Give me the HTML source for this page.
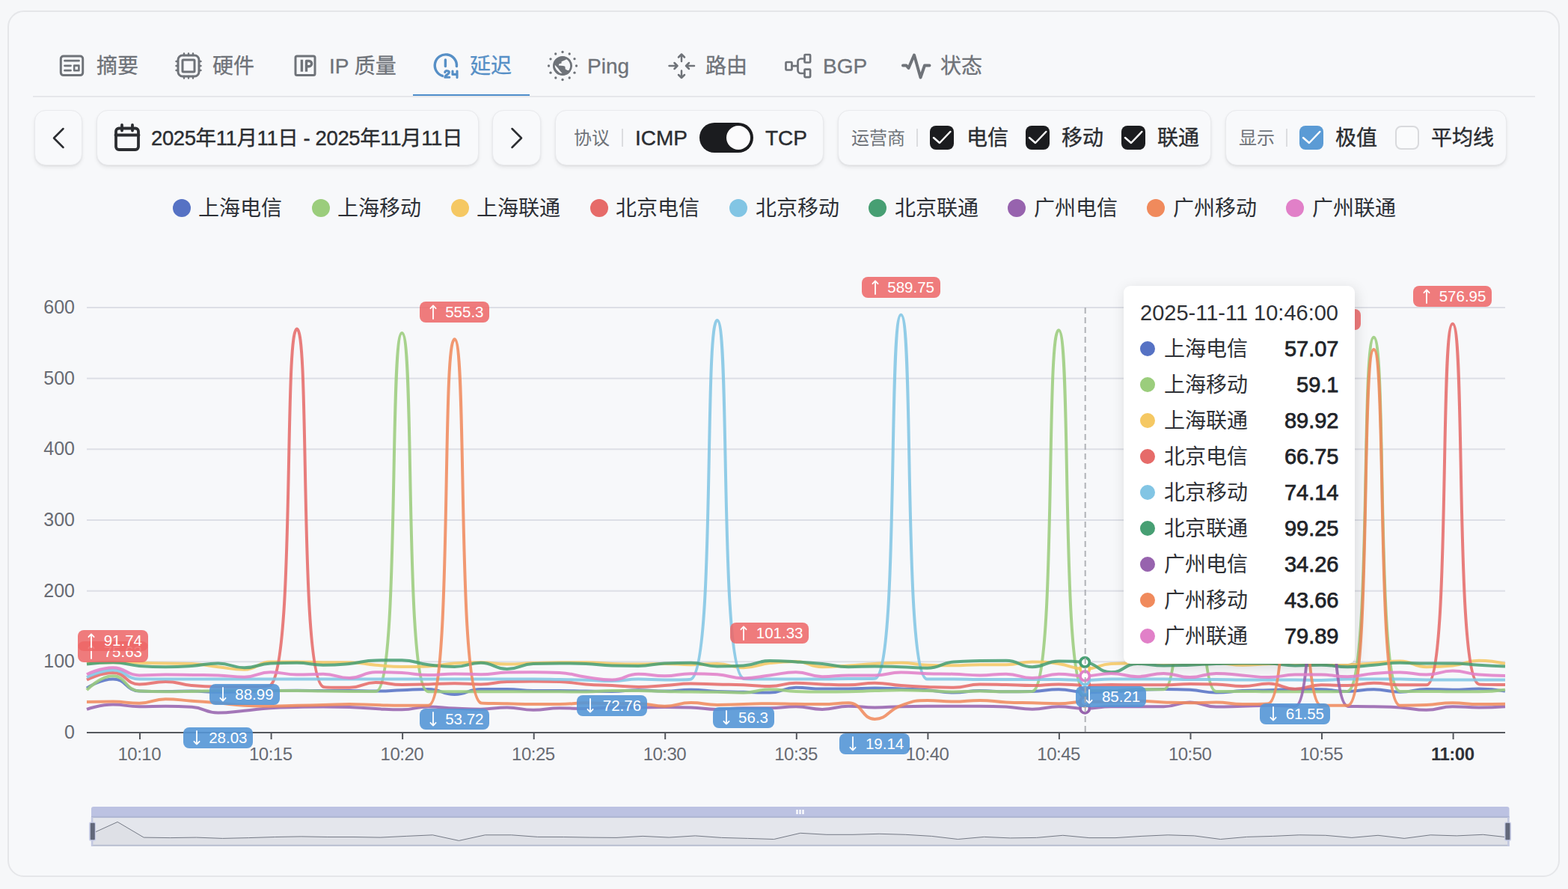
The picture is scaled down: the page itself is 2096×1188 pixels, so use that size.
<!DOCTYPE html>
<html lang="zh-CN"><head><meta charset="utf-8"><title>延迟</title>
<style>
*{box-sizing:border-box;margin:0;padding:0}
html,body{width:2096px;height:1188px;overflow:hidden;background:#f6f7f9;font-family:"Liberation Sans", "Noto Sans CJK SC", sans-serif;}
#page{position:relative;width:2096px;height:1188px;overflow:hidden}
.card{position:absolute;left:10px;top:14px;width:2075px;height:1158px;border:2px solid #e5e6e9;border-radius:22px;background:#f7f8fa}
.t{position:absolute;white-space:nowrap;font-family:"Liberation Sans", "Noto Sans CJK SC", sans-serif;letter-spacing:0}
.ic{position:absolute;overflow:visible}
.tf{display:flex;align-items:center;white-space:pre}
.btn{position:absolute;top:147px;height:74px;border-radius:15px;background:#f8f9fb;border:1.5px solid #e9eaed;box-shadow:0 3px 5px rgba(0,0,0,.07),0 1px 2px rgba(0,0,0,.05)}
.sep{position:absolute;top:172px;width:2px;height:24px;background:#dcdde0}
.cb{position:absolute;top:168px;width:32px;height:32px;border-radius:8px}
.abs{position:absolute}
</style></head><body><div id="page">
<div class="card"></div>
<div class="abs" style="left:44px;top:128px;width:2008px;height:2px;background:#e6e7ea"></div>
<div class="abs" style="left:552px;top:126px;width:156px;height:2.2px;background:#4f8ecb"></div>

<svg class="ic" style="left:76px;top:68px" width="40" height="40" viewBox="0 0 40 40" fill="none" stroke="#6f7379" stroke-width="3" stroke-linecap="round" stroke-linejoin="round"><rect x="5.3" y="7" width="29.4" height="25.6" rx="3.5"/><path d="M10.5 13.2H29.5M10.5 19.8H18.5M10.5 26.2H18.5" stroke-width="2.8"/><rect x="23.2" y="19.6" width="6.2" height="6.6" stroke-width="2.6"/></svg>
<div class="t tf" style="left:129px;top:68.5px;height:39px;line-height:39px;font-size:28px;color:#6f7379;font-weight:400;-webkit-text-stroke:0.3px #6f7379;"><span>摘要</span></div>
<svg class="ic" style="left:232px;top:68px" width="40" height="40" viewBox="0 0 40 40" fill="none" stroke="#6f7379" stroke-width="3" stroke-linecap="round" stroke-linejoin="round"><rect x="6" y="6" width="28" height="28" rx="6"/><rect x="12" y="12" width="16" height="16" rx="1"/><path d="M14 3.5V6M20 3.5V6M26 3.5V6M14 34V36.5M20 34V36.5M26 34V36.5M3.5 14H6M3.5 20H6M3.5 26H6M34 14H36.5M34 20H36.5M34 26H36.5" stroke-width="2.4"/></svg>
<div class="t tf" style="left:284px;top:68.5px;height:39px;line-height:39px;font-size:28px;color:#6f7379;font-weight:400;-webkit-text-stroke:0.3px #6f7379;"><span>硬件</span></div>
<svg class="ic" style="left:388px;top:68px" width="40" height="40" viewBox="0 0 40 40" fill="none" stroke="#6f7379" stroke-width="3" stroke-linecap="round" stroke-linejoin="round"><rect x="7" y="7" width="26" height="25.6" rx="2"/><path d="M15.4 11.8V27.8M21.5 27.8V13.5H25A3.6 3.6 0 0 1 25 20.7H21.5" stroke-width="3.4" stroke-linecap="butt"/></svg>
<div class="t tf" style="left:440px;top:68.5px;height:39px;line-height:39px;font-size:28px;color:#6f7379;font-weight:400;-webkit-text-stroke:0.3px #6f7379;"><span>IP </span><span>质量</span></div>
<svg class="ic" style="left:576px;top:68px" width="40" height="40" viewBox="0 0 40 40" fill="none" stroke="#568fc6" stroke-width="3" stroke-linecap="round" stroke-linejoin="round"><path d="M15.5 33.4A14.6 14.6 0 1 1 34.4 20.6" stroke-width="3.4"/><path d="M19.4 12V20.6" stroke-width="3.4"/><path d="M18.8 28.6C18.8 26 24.4 26 24.4 28.8C24.4 31.2 18.8 32.2 18.8 35.2H24.8M29 27V31.4H35M35 27V35.6" stroke-width="3.1"/></svg>
<div class="t tf" style="left:628px;top:68.5px;height:39px;line-height:39px;font-size:28px;color:#568fc6;font-weight:400;-webkit-text-stroke:0.3px #568fc6;"><span>延迟</span></div>
<svg class="ic" style="left:732px;top:68px" width="40" height="40" viewBox="0 0 40 40" fill="none" stroke="#6f7379" stroke-width="3" stroke-linecap="round" stroke-linejoin="round"><circle cx="38.5" cy="20.0" r="1.65" fill="#6f7379" stroke="none"/><circle cx="36.0" cy="29.2" r="1.65" fill="#6f7379" stroke="none"/><circle cx="29.2" cy="36.0" r="1.65" fill="#6f7379" stroke="none"/><circle cx="20.0" cy="38.5" r="1.65" fill="#6f7379" stroke="none"/><circle cx="10.8" cy="36.0" r="1.65" fill="#6f7379" stroke="none"/><circle cx="4.0" cy="29.2" r="1.65" fill="#6f7379" stroke="none"/><circle cx="1.5" cy="20.0" r="1.65" fill="#6f7379" stroke="none"/><circle cx="4.0" cy="10.8" r="1.65" fill="#6f7379" stroke="none"/><circle cx="10.7" cy="4.0" r="1.65" fill="#6f7379" stroke="none"/><circle cx="20.0" cy="1.5" r="1.65" fill="#6f7379" stroke="none"/><circle cx="29.2" cy="4.0" r="1.65" fill="#6f7379" stroke="none"/><circle cx="36.0" cy="10.7" r="1.65" fill="#6f7379" stroke="none"/><circle cx="20" cy="20" r="12.4" fill="#6f7379" stroke="none"/><path d="M22.8 12.4L25.7 10.9L29.4 14.7L30.6 20.4L29 26L26.6 26L23.8 24.6L23.3 20.8L20.9 19.9L14.8 19.4L15.3 17.5L18.6 16.6L18.6 14.2Z" fill="#f7f8fa" stroke="none"/><path d="M9.6 18.6L13.8 23L16.6 26.8L19.6 30L16 29.6L12 25.4L9.4 21Z" fill="#f7f8fa" stroke="none"/><circle cx="20" cy="20" r="11.7" fill="none" stroke="#6f7379" stroke-width="2.6"/></svg>
<div class="t" style="left:785px;top:68.5px;height:39px;line-height:39px;font-size:28px;color:#6f7379;font-weight:400;-webkit-text-stroke:0.3px #6f7379;">Ping</div>
<svg class="ic" style="left:891px;top:68px" width="40" height="40" viewBox="0 0 40 40" fill="none" stroke="#6f7379" stroke-width="3" stroke-linecap="round" stroke-linejoin="round"><path d="M20 4.5V14M16 8.5L20 4.5L24 8.5M20 36V26.5M16 32L20 36L24 32M3.5 20H14.5M10.5 16L14.5 20L10.5 24M37 20H26M30 16L26 20L30 24" stroke-width="2.5"/></svg>
<div class="t tf" style="left:943px;top:68.5px;height:39px;line-height:39px;font-size:28px;color:#6f7379;font-weight:400;-webkit-text-stroke:0.3px #6f7379;"><span>路由</span></div>
<svg class="ic" style="left:1047px;top:68px" width="40" height="40" viewBox="0 0 40 40" fill="none" stroke="#6f7379" stroke-width="3" stroke-linecap="round" stroke-linejoin="round"><g stroke-width="2.7"><rect x="3.5" y="15" width="8" height="10.5" rx="1"/><rect x="28.5" y="5" width="7.6" height="10.5" rx="1"/><rect x="28.5" y="24.6" width="7.6" height="10.5" rx="1"/><path d="M11.5 20.2H19.5M28.5 10.5H23.5A4 4 0 0 0 19.5 14.5V26A4 4 0 0 0 23.5 30H28.5"/></g></svg>
<div class="t" style="left:1100px;top:68.5px;height:39px;line-height:39px;font-size:28px;color:#6f7379;font-weight:400;-webkit-text-stroke:0.3px #6f7379;">BGP</div>
<svg class="ic" style="left:1205px;top:68px" width="40" height="40" viewBox="0 0 40 40" fill="none" stroke="#6f7379" stroke-width="3" stroke-linecap="round" stroke-linejoin="round"><path d="M2 19.5H6.5L9.5 23L17 5.5L25.5 35.5L31 19.5H37.5" stroke-width="4"/></svg>
<div class="t tf" style="left:1257px;top:68.5px;height:39px;line-height:39px;font-size:28px;color:#6f7379;font-weight:400;-webkit-text-stroke:0.3px #6f7379;"><span>状态</span></div>
<div class="btn" style="left:46px;width:64px"></div>
<svg class="ic" style="left:46px;top:148px" width="64" height="72" viewBox="0 0 64 72" fill="none" stroke="#2b2d31" stroke-width="2.5" stroke-linecap="round" stroke-linejoin="round"><path d="M38.5 24L26 36.5L38.5 49"/></svg>
<div class="btn" style="left:129px;width:511px"></div>
<svg class="ic" style="left:150px;top:164px" width="40" height="40" viewBox="0 0 40 40" fill="none" stroke="#2b2d31" stroke-width="3.8" stroke-linecap="round" stroke-linejoin="round"><rect x="5" y="7.5" width="30" height="28.5" rx="4"/><path d="M4.5 16.5H35.5M13 3V10.5M27 3V10.5"/></svg>
<div class="t tf" id="datetxt" style="left:202px;top:165.8px;height:38px;line-height:38px;font-size:27.5px;color:#2b2d31;font-weight:400;-webkit-text-stroke:0.4px #2b2d31;letter-spacing:-0.4px;"><span>2025年11月11日 - 2025年11月11日</span></div>
<div class="btn" style="left:658px;width:65px"></div>
<svg class="ic" style="left:658px;top:148px" width="65" height="72" viewBox="0 0 65 72" fill="none" stroke="#2b2d31" stroke-width="2.5" stroke-linecap="round" stroke-linejoin="round"><path d="M26.5 24L39 36.5L26.5 49"/></svg>
<div class="btn" style="left:742px;width:359px"></div>
<div class="t tf" style="left:767px;top:167.5px;height:33px;line-height:33px;font-size:24px;color:#6f7379;font-weight:400;"><span>协议</span></div>
<div class="sep" style="left:831px"></div>
<div class="t" style="left:849px;top:164.5px;height:39px;line-height:39px;font-size:28px;color:#2b2d31;font-weight:400;-webkit-text-stroke:0.4px #2b2d31;">ICMP</div>
<div class="abs" style="left:935px;top:164px;width:72px;height:40px;border-radius:20px;background:#1b1c1f"></div>
<div class="abs" style="left:971px;top:168px;width:32px;height:32px;border-radius:16px;background:#fbfbfc"></div>
<div class="t" style="left:1023px;top:164.5px;height:39px;line-height:39px;font-size:28px;color:#2b2d31;font-weight:400;-webkit-text-stroke:0.4px #2b2d31;">TCP</div>
<div class="btn" style="left:1120px;width:499px"></div>
<div class="t tf" style="left:1138px;top:167.5px;height:33px;line-height:33px;font-size:24px;color:#6f7379;font-weight:400;"><span>运营商</span></div>
<div class="sep" style="left:1225px"></div>
<div class="cb" style="left:1243px;background:#1b1c1f"><svg width="32" height="32" viewBox="0 0 32 32" fill="none" stroke="#fff" stroke-width="2.5" stroke-linecap="round" stroke-linejoin="round"><path d="M5 16L13 23L27.3 8"/></svg></div>
<div class="t tf" style="left:1292px;top:164.5px;height:39px;line-height:39px;font-size:28px;color:#2b2d31;font-weight:400;-webkit-text-stroke:0.4px #2b2d31;"><span>电信</span></div>
<div class="cb" style="left:1371px;background:#1b1c1f"><svg width="32" height="32" viewBox="0 0 32 32" fill="none" stroke="#fff" stroke-width="2.5" stroke-linecap="round" stroke-linejoin="round"><path d="M5 16L13 23L27.3 8"/></svg></div>
<div class="t tf" style="left:1419px;top:164.5px;height:39px;line-height:39px;font-size:28px;color:#2b2d31;font-weight:400;-webkit-text-stroke:0.4px #2b2d31;"><span>移动</span></div>
<div class="cb" style="left:1499px;background:#1b1c1f"><svg width="32" height="32" viewBox="0 0 32 32" fill="none" stroke="#fff" stroke-width="2.5" stroke-linecap="round" stroke-linejoin="round"><path d="M5 16L13 23L27.3 8"/></svg></div>
<div class="t tf" style="left:1547px;top:164.5px;height:39px;line-height:39px;font-size:28px;color:#2b2d31;font-weight:400;-webkit-text-stroke:0.4px #2b2d31;"><span>联通</span></div>
<div class="btn" style="left:1638px;width:376px"></div>
<div class="t tf" style="left:1656px;top:167.5px;height:33px;line-height:33px;font-size:24px;color:#6f7379;font-weight:400;"><span>显示</span></div>
<div class="sep" style="left:1719px"></div>
<div class="cb" style="left:1737px;background:#5b9bd5"><svg width="32" height="32" viewBox="0 0 32 32" fill="none" stroke="#fff" stroke-width="2.5" stroke-linecap="round" stroke-linejoin="round"><path d="M5 16L13 23L27.3 8"/></svg></div>
<div class="t tf" style="left:1785px;top:164.5px;height:39px;line-height:39px;font-size:28px;color:#2b2d31;font-weight:400;-webkit-text-stroke:0.4px #2b2d31;"><span>极值</span></div>
<div class="cb" style="left:1865px;background:#fafbfc;border:2px solid #d9dadd"></div>
<div class="t tf" style="left:1913px;top:164.5px;height:39px;line-height:39px;font-size:28px;color:#2b2d31;font-weight:400;-webkit-text-stroke:0.4px #2b2d31;"><span>平均线</span></div>
<div class="abs" style="left:231.0px;top:266px;width:24px;height:24px;border-radius:50%;background:#5672c4"></div>
<div class="t tf" style="left:265px;top:258.5px;height:39px;line-height:39px;font-size:28px;color:#2d3036;font-weight:400;"><span>上海电信</span></div>
<div class="abs" style="left:417.1px;top:266px;width:24px;height:24px;border-radius:50%;background:#9bcd7c"></div>
<div class="t tf" style="left:451px;top:258.5px;height:39px;line-height:39px;font-size:28px;color:#2d3036;font-weight:400;"><span>上海移动</span></div>
<div class="abs" style="left:603.1px;top:266px;width:24px;height:24px;border-radius:50%;background:#f5c863"></div>
<div class="t tf" style="left:637px;top:258.5px;height:39px;line-height:39px;font-size:28px;color:#2d3036;font-weight:400;"><span>上海联通</span></div>
<div class="abs" style="left:789.2px;top:266px;width:24px;height:24px;border-radius:50%;background:#e66b69"></div>
<div class="t tf" style="left:823px;top:258.5px;height:39px;line-height:39px;font-size:28px;color:#2d3036;font-weight:400;"><span>北京电信</span></div>
<div class="abs" style="left:975.2px;top:266px;width:24px;height:24px;border-radius:50%;background:#82c5e4"></div>
<div class="t tf" style="left:1010px;top:258.5px;height:39px;line-height:39px;font-size:28px;color:#2d3036;font-weight:400;"><span>北京移动</span></div>
<div class="abs" style="left:1161.2px;top:266px;width:24px;height:24px;border-radius:50%;background:#479f73"></div>
<div class="t tf" style="left:1196px;top:258.5px;height:39px;line-height:39px;font-size:28px;color:#2d3036;font-weight:400;"><span>北京联通</span></div>
<div class="abs" style="left:1347.3px;top:266px;width:24px;height:24px;border-radius:50%;background:#9763ae"></div>
<div class="t tf" style="left:1382px;top:258.5px;height:39px;line-height:39px;font-size:28px;color:#2d3036;font-weight:400;"><span>广州电信</span></div>
<div class="abs" style="left:1533.4px;top:266px;width:24px;height:24px;border-radius:50%;background:#f08a5c"></div>
<div class="t tf" style="left:1568px;top:258.5px;height:39px;line-height:39px;font-size:28px;color:#2d3036;font-weight:400;"><span>广州移动</span></div>
<div class="abs" style="left:1719.4px;top:266px;width:24px;height:24px;border-radius:50%;background:#e180c8"></div>
<div class="t tf" style="left:1754px;top:258.5px;height:39px;line-height:39px;font-size:28px;color:#2d3036;font-weight:400;"><span>广州联通</span></div>
<svg class="abs" style="left:0;top:0" width="2096" height="1188" viewBox="0 0 2096 1188">
<rect x="116" y="883.3" width="1896" height="2" fill="#dddfe6"/>
<rect x="116" y="788.7" width="1896" height="2" fill="#dddfe6"/>
<rect x="116" y="694.0" width="1896" height="2" fill="#dddfe6"/>
<rect x="116" y="599.3" width="1896" height="2" fill="#dddfe6"/>
<rect x="116" y="504.7" width="1896" height="2" fill="#dddfe6"/>
<rect x="116" y="410.0" width="1896" height="2" fill="#dddfe6"/>
<defs><clipPath id="gc"><rect x="114" y="380" width="1898.5" height="610"/></clipPath></defs>
<g clip-path="url(#gc)">
<path d="M116.0 919.6C116.0 919.6 133.9 907.4 151.1 907.4C169.0 907.4 167.8 923.1 186.2 923.6C202.9 924.1 203.8 924.1 221.3 924.1C238.9 924.1 238.9 923.6 256.4 923.6C274.0 923.6 274.0 924.8 291.6 924.8C309.1 924.8 309.1 924.5 326.7 924.1C344.2 923.7 344.2 923.5 361.8 923.1C379.3 922.8 379.3 922.7 396.9 922.7C414.4 922.7 414.4 923.1 432.0 923.1C449.6 923.1 449.6 923.1 467.1 923.1C484.7 923.1 484.7 923.6 502.2 923.6C519.8 923.6 519.8 922.9 537.3 922.2C554.9 921.5 555.1 920.9 572.4 920.9C590.2 920.9 590.0 928.1 607.6 928.1C625.1 928.1 624.9 920.9 642.7 920.9C660.0 920.9 660.2 920.9 677.8 920.9C695.4 920.9 695.3 923.0 712.9 923.1C730.4 923.1 730.4 923.1 748.0 923.1C765.6 923.2 765.6 923.4 783.1 923.6C800.7 923.8 800.7 923.9 818.2 923.9C835.8 923.9 835.8 922.2 853.3 922.2C870.9 922.2 870.9 923.6 888.4 923.6C906.0 923.6 906.0 921.8 923.6 921.8C941.1 921.8 941.1 923.2 958.7 923.9C976.2 924.6 976.2 924.3 993.8 924.8C1011.3 925.2 1011.5 925.6 1028.9 925.6C1046.6 925.6 1046.3 918.8 1064.0 918.8C1081.4 918.8 1081.5 920.5 1099.1 920.5C1116.7 920.5 1116.7 920.5 1134.2 920.5C1151.8 920.5 1151.8 919.6 1169.3 919.6C1186.9 919.6 1186.9 919.9 1204.4 920.5C1222.0 921.1 1222.0 920.9 1239.6 922.2C1257.1 923.5 1257.1 925.6 1274.7 925.6C1292.2 925.6 1292.2 923.1 1309.8 923.1C1327.3 923.1 1327.3 924.3 1344.9 924.3C1362.4 924.3 1362.5 924.3 1380.0 923.9C1397.6 923.5 1397.6 921.3 1415.1 921.3C1432.7 921.3 1432.6 925.0 1450.2 925.0C1467.7 925.0 1467.8 924.8 1485.3 924.1C1502.9 923.4 1502.9 923.0 1520.4 922.2C1538.0 921.4 1538.0 920.9 1555.6 920.9C1573.1 920.9 1573.2 920.9 1590.7 921.8C1608.3 922.8 1608.2 925.6 1625.8 925.6C1643.3 925.6 1643.3 923.9 1660.9 923.1C1678.4 922.2 1678.4 922.7 1696.0 922.2C1713.6 921.7 1713.6 920.9 1731.1 920.9C1748.7 920.9 1748.7 920.9 1766.2 921.3C1783.8 921.8 1783.8 923.9 1801.3 923.9C1818.9 923.9 1818.9 921.3 1836.4 921.3C1854.0 921.3 1854.0 924.8 1871.6 924.8C1889.1 924.8 1889.1 920.9 1906.7 920.9C1924.2 920.9 1924.2 921.8 1941.8 921.8C1959.3 921.8 1959.4 920.5 1976.9 920.5C1994.5 920.5 2012.0 923.6 2012.0 923.6" fill="none" stroke="#5672c4" stroke-width="4" stroke-opacity="0.87" stroke-linejoin="round"/>
<path d="M116.0 922.2C116.0 922.2 133.7 903.3 151.1 903.3C168.8 903.3 167.4 922.7 186.2 923.5C202.5 924.3 203.8 924.3 221.3 924.3C238.9 924.3 238.9 924.2 256.4 923.9C274.0 923.6 274.0 923.1 291.6 923.1C309.1 923.1 309.1 923.1 326.7 923.1C344.2 923.1 344.2 923.1 361.8 923.1C379.3 923.1 379.3 923.1 396.9 923.1C414.4 923.1 414.4 923.4 432.0 923.6C449.6 923.8 449.6 923.8 467.1 923.9C484.7 924.0 499.8 924.1 502.2 924.1C534.9 924.1 519.8 445.1 537.3 445.1C554.9 445.1 539.7 924.3 572.4 924.3C574.8 924.3 590.0 924.3 607.6 924.3C625.1 924.3 625.1 924.3 642.7 924.3C660.2 924.3 660.2 924.3 677.8 924.3C695.3 924.3 695.3 924.3 712.9 924.3C730.4 924.3 730.4 924.3 748.0 924.3C765.6 924.3 765.6 924.6 783.1 924.6C800.7 924.6 800.7 923.1 818.2 923.1C835.8 923.1 835.8 923.1 853.3 923.1C870.9 923.1 870.9 923.5 888.4 923.9C906.0 924.3 906.0 924.5 923.6 924.6C941.1 924.7 941.1 924.6 958.7 924.7C976.2 924.8 976.3 925.7 993.8 925.7C1011.4 925.7 1011.3 921.3 1028.9 921.3C1046.4 921.3 1046.4 923.2 1064.0 923.9C1081.5 924.6 1081.6 924.6 1099.1 924.6C1116.7 924.6 1116.7 924.6 1134.2 924.3C1151.8 924.0 1151.8 923.6 1169.3 923.1C1186.9 922.5 1186.9 922.2 1204.4 922.2C1222.0 922.2 1222.0 922.5 1239.6 923.1C1257.1 923.6 1257.1 924.5 1274.7 924.5C1292.2 924.5 1292.2 923.6 1309.8 923.6C1327.3 923.6 1327.3 924.3 1344.9 924.3C1362.4 924.3 1377.6 924.3 1380.0 923.9C1412.7 918.7 1397.5 441.3 1415.1 441.3C1432.7 441.3 1417.5 921.7 1450.2 923.1C1452.6 923.1 1467.8 923.1 1485.3 923.1C1502.9 923.1 1502.9 921.3 1520.4 921.3C1538.0 921.3 1553.1 921.3 1555.6 921.3C1588.2 921.3 1573.2 448.9 1590.7 448.9C1608.3 448.9 1593.1 923.9 1625.8 923.9C1628.2 923.9 1643.3 923.9 1660.9 923.9C1678.4 923.9 1678.4 924.3 1696.0 924.3C1713.6 924.3 1713.6 924.3 1731.1 924.3C1748.7 924.3 1748.7 924.3 1766.2 924.3C1783.8 924.3 1798.9 924.3 1801.3 923.9C1834.0 918.8 1818.9 450.8 1836.4 450.8C1854.0 450.8 1838.9 923.9 1871.6 923.9C1874.0 923.9 1889.1 923.9 1906.7 923.9C1924.2 923.9 1924.2 924.3 1941.8 924.3C1959.3 924.3 1959.4 924.3 1976.9 924.3C1994.5 924.3 2012.0 921.8 2012.0 921.8" fill="none" stroke="#9bcd7c" stroke-width="4" stroke-opacity="0.87" stroke-linejoin="round"/>
<path d="M116.0 886.2C116.0 886.2 133.6 885.3 151.1 885.3C168.7 885.3 168.7 885.4 186.2 885.8C203.8 886.1 203.8 886.2 221.3 886.5C238.9 886.8 239.0 886.5 256.4 887.0C274.1 887.5 274.0 889.3 291.6 891.2C309.1 893.2 309.4 894.8 326.7 894.8C344.5 894.8 343.9 884.4 361.8 884.4C379.0 884.4 379.3 884.4 396.9 884.4C414.4 884.4 414.4 885.3 432.0 885.3C449.6 885.3 449.6 885.3 467.1 885.3C484.7 885.3 484.6 887.3 502.2 888.7C519.8 890.1 519.8 891.0 537.3 891.0C554.9 891.0 554.9 891.0 572.4 890.4C590.1 889.8 590.0 887.7 607.6 886.5C625.1 885.3 625.1 885.3 642.7 885.3C660.2 885.3 660.2 887.6 677.8 887.6C695.3 887.6 695.3 886.7 712.9 886.1C730.4 885.6 730.4 885.3 748.0 885.3C765.6 885.3 765.6 885.3 783.1 885.3C800.7 885.3 800.7 886.4 818.2 887.0C835.8 887.6 835.8 887.6 853.3 887.6C870.9 887.6 870.9 887.0 888.4 887.0C906.0 887.0 906.0 888.2 923.6 888.2C941.1 888.2 941.2 887.0 958.7 887.0C976.3 887.0 976.3 892.2 993.8 892.2C1011.4 892.2 1011.2 888.2 1028.9 886.1C1046.3 884.1 1046.6 884.0 1064.0 884.0C1081.7 884.0 1081.4 891.2 1099.1 891.2C1116.5 891.2 1116.7 890.6 1134.2 889.5C1151.8 888.5 1151.8 887.9 1169.3 887.0C1186.9 886.0 1186.9 885.8 1204.4 885.8C1222.0 885.8 1222.0 888.1 1239.6 888.7C1257.1 889.3 1257.1 889.3 1274.7 889.3C1292.2 889.3 1292.2 888.2 1309.8 888.2C1327.3 888.2 1327.4 888.2 1344.9 888.2C1362.5 888.2 1362.4 884.4 1380.0 884.4C1397.5 884.4 1397.7 884.6 1415.1 887.0C1432.8 889.4 1432.7 893.9 1450.2 893.9C1467.8 893.9 1467.6 887.8 1485.3 887.0C1502.7 886.2 1502.9 886.2 1520.4 886.2C1538.0 886.2 1538.0 886.2 1555.6 886.2C1573.1 886.2 1573.1 887.2 1590.7 887.2C1608.2 887.2 1608.2 886.2 1625.8 886.2C1643.4 886.2 1643.3 888.7 1660.9 888.7C1678.4 888.7 1678.4 887.8 1696.0 887.2C1713.6 886.6 1713.6 886.2 1731.1 886.2C1748.7 886.2 1748.7 886.7 1766.2 887.2C1783.8 887.6 1783.8 888.1 1801.3 888.1C1818.9 888.1 1818.9 887.4 1836.4 886.2C1854.0 885.1 1854.2 883.6 1871.6 883.6C1889.3 883.6 1888.9 891.2 1906.7 891.2C1924.0 891.2 1924.4 891.2 1941.8 889.5C1959.5 887.8 1959.2 882.7 1976.9 882.7C1994.3 882.7 2012.0 887.0 2012.0 887.0" fill="none" stroke="#f5c863" stroke-width="4" stroke-opacity="0.87" stroke-linejoin="round"/>
<path d="M116.0 908.5C116.0 908.5 134.0 899.0 151.1 899.0C169.1 899.0 167.9 914.4 186.2 914.4C203.0 914.4 203.8 911.0 221.3 911.0C238.9 911.0 238.8 914.4 256.4 916.1C273.9 917.8 274.0 917.8 291.6 917.8C309.1 917.8 309.1 917.8 326.7 917.8C344.2 917.8 359.4 917.8 361.8 915.6C394.5 884.7 379.4 439.4 396.9 439.4C414.5 439.4 399.3 904.9 432.0 917.8C434.4 918.8 449.7 918.8 467.1 918.8C484.8 918.8 484.5 911.9 502.2 911.9C519.6 911.9 519.7 915.0 537.3 915.0C554.9 915.0 554.9 914.9 572.4 914.4C590.0 914.0 590.0 913.3 607.6 913.3C625.1 913.3 625.1 914.4 642.7 914.4C660.3 914.4 660.2 911.5 677.8 911.0C695.3 910.6 695.3 910.6 712.9 910.6C730.4 910.6 730.5 910.6 748.0 911.0C765.6 911.5 765.5 913.2 783.1 914.4C800.6 915.7 800.7 915.3 818.2 916.1C835.8 917.0 835.8 917.9 853.3 917.9C870.9 917.9 870.9 917.2 888.4 916.1C906.0 915.1 906.0 913.6 923.6 913.6C941.1 913.6 941.1 914.0 958.7 914.4C976.2 914.9 976.2 914.6 993.8 915.3C1011.3 916.0 1011.4 917.1 1028.9 917.1C1046.5 917.1 1046.4 912.7 1064.0 912.7C1081.5 912.7 1081.5 913.8 1099.1 914.4C1116.7 915.1 1116.7 915.3 1134.2 915.3C1151.8 915.3 1151.8 912.7 1169.3 912.7C1186.9 912.7 1186.9 914.8 1204.4 916.1C1222.0 917.4 1222.0 917.3 1239.6 917.9C1257.1 918.6 1257.2 918.8 1274.7 918.8C1292.3 918.8 1292.2 914.4 1309.8 914.4C1327.3 914.4 1327.3 914.6 1344.9 915.0C1362.4 915.4 1362.5 916.1 1380.0 916.1C1397.6 916.1 1397.6 914.4 1415.1 914.4C1432.7 914.4 1432.7 915.8 1450.2 915.8C1467.8 915.8 1467.8 915.0 1485.3 915.0C1502.9 915.0 1502.9 915.3 1520.4 915.3C1538.0 915.3 1538.0 915.3 1555.6 915.3C1573.1 915.3 1573.1 914.0 1590.7 914.0C1608.2 914.0 1608.2 914.0 1625.8 914.4C1643.4 914.9 1643.4 917.1 1660.9 917.1C1678.5 917.1 1678.6 913.6 1696.0 913.6C1713.7 913.6 1713.5 920.7 1731.1 920.7C1748.6 920.7 1748.6 915.3 1766.2 915.3C1783.7 915.3 1783.8 916.1 1801.3 916.1C1818.9 916.1 1818.9 912.7 1836.4 912.7C1854.0 912.7 1854.0 915.3 1871.6 915.3C1889.1 915.3 1904.3 915.3 1906.7 915.3C1939.4 915.3 1924.2 432.8 1941.8 432.8C1959.3 432.8 1944.2 906.6 1976.9 914.4C1979.3 915.0 2012.0 915.0 2012.0 915.0" fill="none" stroke="#e66b69" stroke-width="4" stroke-opacity="0.87" stroke-linejoin="round"/>
<path d="M116.0 905.3C116.0 905.3 133.7 895.6 151.1 895.6C168.8 895.6 168.2 907.6 186.2 907.6C203.3 907.6 203.8 907.6 221.3 907.6C238.9 907.6 238.9 907.6 256.4 907.6C274.0 907.6 274.0 907.6 291.6 907.6C309.1 907.6 309.1 907.6 326.7 907.6C344.2 907.6 344.2 907.6 361.8 907.6C379.3 907.6 379.3 907.6 396.9 907.6C414.4 907.6 414.4 907.6 432.0 907.6C449.6 907.6 449.6 907.6 467.1 907.6C484.7 907.6 484.7 907.6 502.2 907.6C519.8 907.6 519.8 907.6 537.3 907.6C554.9 907.6 554.9 907.6 572.4 907.6C590.0 907.6 590.0 907.6 607.6 907.6C625.1 907.6 625.1 907.6 642.7 907.6C660.2 907.6 660.2 907.6 677.8 907.6C695.3 907.6 695.3 907.6 712.9 907.6C730.4 907.6 730.4 907.8 748.0 908.1C765.6 908.4 765.6 908.3 783.1 908.8C800.7 909.3 800.7 910.1 818.2 910.1C835.8 910.1 835.8 907.6 853.3 907.6C870.9 907.6 870.9 908.5 888.4 908.5C906.0 908.5 921.2 908.5 923.6 907.6C956.3 896.0 941.1 428.0 958.7 428.0C976.2 428.0 961.1 895.1 993.8 906.8C996.2 907.6 1011.3 907.6 1028.9 907.6C1046.4 907.6 1046.4 907.6 1064.0 907.6C1081.6 907.6 1081.6 907.6 1099.1 907.6C1116.7 907.6 1116.7 907.3 1134.2 907.1C1151.8 906.8 1167.0 907.1 1169.3 906.8C1202.1 902.8 1186.9 420.7 1204.4 420.7C1222.0 420.7 1206.8 907.6 1239.6 907.6C1241.9 907.6 1257.1 907.6 1274.7 907.6C1292.2 907.6 1292.2 908.1 1309.8 908.1C1327.3 908.1 1327.3 908.1 1344.9 908.1C1362.4 908.1 1362.4 908.1 1380.0 908.1C1397.6 908.1 1397.6 908.1 1415.1 908.1C1432.7 908.1 1432.7 908.8 1450.2 908.8C1467.8 908.8 1467.8 907.6 1485.3 907.6C1502.9 907.6 1502.9 907.6 1520.4 907.6C1538.0 907.6 1538.0 907.6 1555.6 907.6C1573.1 907.6 1573.1 908.1 1590.7 908.1C1608.2 908.1 1608.2 908.1 1625.8 908.1C1643.3 908.1 1643.3 908.5 1660.9 908.5C1678.4 908.5 1678.4 908.5 1696.0 908.5C1713.6 908.5 1713.6 908.5 1731.1 908.5C1748.7 908.5 1748.7 908.9 1766.2 908.9C1783.8 908.9 1783.8 907.6 1801.3 907.6C1818.9 907.6 1818.9 907.6 1836.4 907.6C1854.0 907.6 1854.0 907.6 1871.6 907.6C1889.1 907.6 1889.1 908.5 1906.7 908.5C1924.2 908.5 1924.2 908.5 1941.8 908.5C1959.3 908.5 1959.3 908.5 1976.9 908.5C1994.4 908.5 2012.0 908.5 2012.0 908.5" fill="none" stroke="#82c5e4" stroke-width="4" stroke-opacity="0.87" stroke-linejoin="round"/>
<path d="M116.0 887.5C116.0 887.5 133.6 885.3 151.1 885.3C168.7 885.3 168.6 888.6 186.2 889.9C203.7 891.2 203.8 891.2 221.3 891.2C238.9 891.2 238.9 891.1 256.4 889.9C274.0 888.7 274.1 886.5 291.6 886.5C309.2 886.5 309.1 892.2 326.7 892.2C344.2 892.2 344.1 887.2 361.8 886.5C379.2 885.8 379.4 885.8 396.9 885.8C414.5 885.8 414.4 888.7 432.0 888.7C449.5 888.7 449.6 888.5 467.1 887.0C484.7 885.4 484.6 882.5 502.2 882.4C519.7 882.3 519.9 882.3 537.3 882.3C555.0 882.3 554.8 886.0 572.4 888.2C589.9 890.4 590.1 891.0 607.6 891.0C625.2 891.0 625.2 885.8 642.7 885.8C660.4 885.8 660.2 893.9 677.8 893.9C695.3 893.9 695.2 887.5 712.9 887.0C730.3 886.5 730.4 886.5 748.0 886.5C765.6 886.5 765.6 886.5 783.1 887.0C800.7 887.5 800.6 889.2 818.2 889.5C835.8 889.9 835.8 889.9 853.3 889.9C870.9 889.9 870.8 887.3 888.4 886.5C906.0 885.8 906.1 885.8 923.6 885.8C941.2 885.8 941.0 890.4 958.7 890.4C976.1 890.4 976.4 890.4 993.8 889.5C1011.5 888.7 1011.2 883.1 1028.9 883.1C1046.3 883.1 1046.5 883.5 1064.0 884.4C1081.6 885.4 1081.6 885.3 1099.1 887.0C1116.7 888.7 1116.6 891.2 1134.2 891.2C1151.7 891.2 1151.8 890.4 1169.3 890.4C1186.9 890.4 1186.9 890.7 1204.4 891.2C1222.0 891.8 1222.2 892.7 1239.6 892.7C1257.3 892.7 1256.9 885.9 1274.7 884.4C1292.0 883.0 1292.2 883.3 1309.8 883.0C1327.3 882.7 1327.6 882.7 1344.9 882.7C1362.7 882.7 1362.4 891.2 1380.0 891.2C1397.5 891.2 1397.4 883.6 1415.1 883.6C1432.5 883.6 1433.2 883.6 1450.2 885.0C1468.4 886.6 1467.6 898.3 1485.3 898.3C1502.7 898.3 1502.5 887.0 1520.4 887.0C1537.6 887.0 1538.0 889.5 1555.6 889.5C1573.1 889.5 1573.1 889.3 1590.7 888.7C1608.2 888.0 1608.2 887.6 1625.8 887.0C1643.3 886.4 1643.3 886.2 1660.9 886.2C1678.4 886.2 1678.5 886.2 1696.0 886.5C1713.6 886.8 1713.5 889.5 1731.1 889.5C1748.6 889.5 1748.7 888.7 1766.2 888.7C1783.8 888.7 1783.8 891.2 1801.3 891.2C1818.9 891.2 1818.9 890.1 1836.4 888.7C1854.0 887.3 1854.0 885.8 1871.6 885.8C1889.1 885.8 1889.1 886.5 1906.7 886.5C1924.2 886.5 1924.2 886.5 1941.8 886.5C1959.4 886.5 1959.3 887.7 1976.9 888.7C1994.4 889.7 2012.0 890.4 2012.0 890.4" fill="none" stroke="#479f73" stroke-width="4" stroke-opacity="0.87" stroke-linejoin="round"/>
<path d="M116.0 947.9C116.0 947.9 133.4 941.6 151.1 941.6C168.5 941.6 168.6 944.2 186.2 944.2C203.8 944.2 203.8 943.7 221.3 943.7C238.9 943.7 239.1 943.7 256.4 944.8C274.2 946.0 273.8 952.5 291.6 952.5C308.9 952.5 309.1 951.2 326.7 949.7C344.2 948.1 344.2 947.4 361.8 946.2C379.3 945.1 379.3 945.4 396.9 945.0C414.4 944.6 414.4 944.5 432.0 944.5C449.6 944.5 449.6 944.5 467.1 945.0C484.7 945.5 484.7 946.3 502.2 947.1C519.8 947.9 519.8 948.3 537.3 948.3C554.9 948.3 554.9 944.5 572.4 944.5C590.0 944.5 590.0 945.8 607.6 946.6C625.1 947.4 625.1 947.7 642.7 947.7C660.2 947.7 660.2 945.4 677.8 945.4C695.4 945.4 695.3 948.8 712.9 948.8C730.4 948.8 730.4 946.2 748.0 946.2C765.5 946.2 765.6 947.1 783.1 947.1C800.7 947.1 800.7 945.4 818.2 945.4C835.8 945.4 835.8 945.4 853.3 945.4C870.9 945.4 870.9 944.9 888.4 944.9C906.0 944.9 906.0 944.9 923.6 945.4C941.1 945.9 941.1 947.9 958.7 947.9C976.2 947.9 976.2 946.2 993.8 946.2C1011.3 946.2 1011.3 946.2 1028.9 946.2C1046.5 946.2 1046.5 944.2 1064.0 944.2C1081.6 944.2 1081.6 947.9 1099.1 947.9C1116.7 947.9 1116.6 943.7 1134.2 943.7C1151.7 943.7 1151.8 945.4 1169.3 945.4C1186.9 945.4 1186.9 944.6 1204.4 944.2C1222.0 943.7 1222.0 943.7 1239.6 943.7C1257.1 943.7 1257.1 943.7 1274.7 943.7C1292.2 943.7 1292.2 943.7 1309.8 943.7C1327.3 943.7 1327.4 943.7 1344.9 944.5C1362.5 945.4 1362.5 947.7 1380.0 947.7C1397.6 947.7 1397.5 944.2 1415.1 944.2C1432.6 944.2 1432.7 946.6 1450.2 946.6C1467.8 946.6 1467.8 944.2 1485.3 944.2C1502.9 944.2 1502.9 944.2 1520.4 944.2C1538.0 944.2 1538.1 944.2 1555.6 944.2C1573.2 944.2 1573.1 938.5 1590.7 938.5C1608.2 938.5 1608.1 944.5 1625.8 944.5C1643.2 944.5 1643.3 944.1 1660.9 943.7C1678.4 943.3 1678.4 942.8 1696.0 942.8C1713.6 942.8 1728.7 944.0 1731.1 944.0C1763.8 944.0 1748.7 463.9 1766.2 463.9C1783.8 463.9 1768.6 937.2 1801.3 943.7C1803.7 944.2 1818.9 943.7 1836.4 944.2C1854.0 944.6 1854.0 944.2 1871.6 945.4C1889.1 946.6 1889.1 948.8 1906.7 948.8C1924.3 948.8 1924.2 944.2 1941.8 944.2C1959.3 944.2 1959.3 945.4 1976.9 945.4C1994.4 945.4 2012.0 944.2 2012.0 944.2" fill="none" stroke="#9763ae" stroke-width="4" stroke-opacity="0.87" stroke-linejoin="round"/>
<path d="M116.0 938.0C116.0 938.0 133.6 937.6 151.1 937.6C168.7 937.6 168.8 939.7 186.2 939.7C203.9 939.7 203.7 934.2 221.3 934.2C238.8 934.2 238.9 935.5 256.4 936.8C274.0 938.1 274.0 937.8 291.6 939.3C309.1 940.9 309.1 942.0 326.7 942.8C344.2 943.7 344.2 943.7 361.8 943.7C379.3 943.7 379.3 943.2 396.9 942.8C414.4 942.4 414.4 942.5 432.0 942.1C449.6 941.7 449.6 941.1 467.1 941.1C484.7 941.1 484.7 941.6 502.2 942.0C519.8 942.4 519.8 942.8 537.3 942.8C554.9 942.8 570.1 942.8 572.4 942.8C605.2 942.8 589.9 453.3 607.6 453.3C625.0 453.3 609.9 926.2 642.7 939.3C645.0 940.3 660.2 939.8 677.8 940.3C695.3 940.7 695.3 941.1 712.9 941.1C730.4 941.1 730.5 941.1 748.0 941.1C765.6 941.1 765.5 939.3 783.1 939.3C800.7 939.3 800.7 940.2 818.2 940.2C835.8 940.2 835.8 940.2 853.3 940.2C870.9 940.2 870.9 943.7 888.4 943.7C906.0 943.7 906.0 939.1 923.6 939.1C941.1 939.1 941.1 942.0 958.7 942.0C976.2 942.0 976.2 941.6 993.8 941.1C1011.3 940.7 1011.3 940.2 1028.9 940.2C1046.4 940.2 1046.4 940.5 1064.0 940.8C1081.6 941.0 1081.6 941.1 1099.1 941.1C1116.7 941.1 1118.1 939.3 1134.2 939.3C1153.2 939.3 1151.4 960.9 1169.3 960.9C1186.5 960.9 1186.0 949.4 1204.4 942.8C1221.1 936.9 1221.8 935.9 1239.6 935.9C1257.0 935.9 1257.1 937.6 1274.7 937.6C1292.2 937.6 1292.2 935.9 1309.8 935.9C1327.3 935.9 1327.3 937.6 1344.9 938.5C1362.4 939.3 1362.4 938.9 1380.0 939.3C1397.6 939.8 1397.6 940.2 1415.1 940.2C1432.7 940.2 1432.6 937.7 1450.2 937.7C1467.8 937.6 1467.8 937.7 1485.3 937.6C1502.9 937.6 1502.9 936.8 1520.4 936.8C1538.0 936.8 1538.0 937.8 1555.6 938.5C1573.1 939.1 1573.1 939.3 1590.7 939.3C1608.2 939.3 1608.2 938.5 1625.8 938.5C1643.4 938.5 1643.3 941.1 1660.9 941.1C1678.4 941.1 1693.5 941.1 1696.0 940.2C1728.6 927.7 1713.6 477.3 1731.1 477.3C1748.7 477.3 1733.6 942.8 1766.2 942.8C1768.7 942.8 1798.9 942.8 1801.3 942.8C1834.0 942.8 1818.9 466.9 1836.4 466.9C1854.0 466.9 1838.9 942.8 1871.6 942.8C1874.0 942.8 1889.1 942.8 1906.7 942.0C1924.2 941.1 1924.2 939.3 1941.8 939.3C1959.3 939.3 1959.3 941.1 1976.9 941.1C1994.4 941.1 2012.0 940.8 2012.0 940.8" fill="none" stroke="#f08a5c" stroke-width="4" stroke-opacity="0.87" stroke-linejoin="round"/>
<path d="M116.0 901.3C116.0 901.3 133.6 892.2 151.1 892.2C168.7 892.2 168.3 902.4 186.2 902.4C203.4 902.4 203.8 901.6 221.3 901.6C238.9 901.6 238.9 901.7 256.4 901.9C274.0 902.2 274.0 901.9 291.6 902.4C309.1 902.9 309.2 904.7 326.7 904.7C344.4 904.7 344.1 898.2 361.8 898.2C379.2 898.2 379.3 901.6 396.9 901.6C414.4 901.6 414.5 900.7 432.0 900.7C449.6 900.7 449.7 905.9 467.1 905.9C484.8 905.9 484.5 898.2 502.2 898.2C519.6 898.2 519.8 898.2 537.3 899.0C554.9 899.9 554.9 902.1 572.4 902.1C590.0 902.1 590.0 900.4 607.6 900.4C625.1 900.4 625.1 901.3 642.7 901.3C660.2 901.3 660.2 899.1 677.8 898.6C695.3 898.2 695.3 898.2 712.9 898.2C730.4 898.2 730.6 898.2 748.0 899.0C765.7 899.9 765.5 902.3 783.1 904.7C800.6 907.0 800.8 908.5 818.2 908.5C835.9 908.5 835.6 900.7 853.3 900.7C870.7 900.7 870.9 903.3 888.4 903.3C906.0 903.3 906.0 900.2 923.6 900.2C941.1 900.2 941.2 900.2 958.7 901.3C976.3 902.3 976.2 906.4 993.8 906.4C1011.3 906.4 1011.3 904.5 1028.9 902.4C1046.5 900.4 1046.5 898.2 1064.0 898.2C1081.6 898.2 1081.4 904.2 1099.1 904.2C1116.5 904.2 1116.7 902.4 1134.2 902.4C1151.8 902.4 1151.8 902.4 1169.3 902.4C1186.9 902.4 1186.8 898.5 1204.4 898.5C1222.0 898.5 1222.0 899.8 1239.6 900.2C1257.1 900.7 1257.1 900.2 1274.7 900.7C1292.2 901.2 1292.2 902.4 1309.8 902.4C1327.3 902.4 1327.4 900.7 1344.9 900.7C1362.5 900.7 1362.4 905.9 1380.0 905.9C1397.6 905.9 1397.5 900.7 1415.1 900.7C1432.6 900.7 1432.7 903.4 1450.2 903.4C1467.8 903.4 1467.8 899.9 1485.3 899.9C1502.9 899.9 1502.9 904.2 1520.4 904.2C1538.0 904.2 1538.0 899.9 1555.6 899.9C1573.1 899.9 1573.1 905.1 1590.7 905.1C1608.2 905.1 1608.1 899.9 1625.8 899.9C1643.3 899.9 1643.3 901.1 1660.9 902.4C1678.4 903.7 1678.5 905.1 1696.0 905.1C1713.6 905.1 1713.5 901.6 1731.1 901.6C1748.6 901.6 1748.7 901.6 1766.2 901.6C1783.8 901.6 1783.8 904.2 1801.3 904.2C1818.9 904.2 1818.8 901.2 1836.4 899.9C1853.9 898.5 1854.0 898.5 1871.6 898.5C1889.1 898.5 1889.2 901.6 1906.7 901.6C1924.3 901.6 1924.2 896.5 1941.8 896.5C1959.3 896.5 1959.2 900.1 1976.9 901.6C1994.4 903.0 2012.0 903.0 2012.0 903.0" fill="none" stroke="#e180c8" stroke-width="4" stroke-opacity="0.87" stroke-linejoin="round"/>
</g>
<rect x="116" y="978" width="1896" height="2" fill="#55585e"/>
<rect x="186.0" y="979" width="2" height="9" fill="#55585e"/>
<rect x="361.6" y="979" width="2" height="9" fill="#55585e"/>
<rect x="537.1" y="979" width="2" height="9" fill="#55585e"/>
<rect x="712.7" y="979" width="2" height="9" fill="#55585e"/>
<rect x="888.2" y="979" width="2" height="9" fill="#55585e"/>
<rect x="1063.8" y="979" width="2" height="9" fill="#55585e"/>
<rect x="1239.4" y="979" width="2" height="9" fill="#55585e"/>
<rect x="1414.9" y="979" width="2" height="9" fill="#55585e"/>
<rect x="1590.5" y="979" width="2" height="9" fill="#55585e"/>
<rect x="1766.0" y="979" width="2" height="9" fill="#55585e"/>
<rect x="1941.6" y="979" width="2" height="9" fill="#55585e"/>
<circle cx="1450.2" cy="925.0" r="6.2" fill="#fff" stroke="#5672c4" stroke-width="3.8"/>
<circle cx="1450.2" cy="923.1" r="6.2" fill="#fff" stroke="#9bcd7c" stroke-width="3.8"/>
<circle cx="1450.2" cy="893.9" r="6.2" fill="#fff" stroke="#f5c863" stroke-width="3.8"/>
<circle cx="1450.2" cy="915.8" r="6.2" fill="#fff" stroke="#e66b69" stroke-width="3.8"/>
<circle cx="1450.2" cy="908.8" r="6.2" fill="#fff" stroke="#82c5e4" stroke-width="3.8"/>
<circle cx="1450.2" cy="885.0" r="6.2" fill="#fff" stroke="#479f73" stroke-width="3.8"/>
<circle cx="1450.2" cy="946.6" r="6.2" fill="#fff" stroke="#9763ae" stroke-width="3.8"/>
<circle cx="1450.2" cy="937.7" r="6.2" fill="#fff" stroke="#f08a5c" stroke-width="3.8"/>
<circle cx="1450.2" cy="903.4" r="6.2" fill="#fff" stroke="#e180c8" stroke-width="3.8"/>
</svg>
<div class="t" style="right:1996px;top:960.8px;height:35px;line-height:35px;font-size:25px;color:#686b73;font-weight:400;">0</div>
<div class="t" style="right:1996px;top:866.1px;height:35px;line-height:35px;font-size:25px;color:#686b73;font-weight:400;">100</div>
<div class="t" style="right:1996px;top:771.5px;height:35px;line-height:35px;font-size:25px;color:#686b73;font-weight:400;">200</div>
<div class="t" style="right:1996px;top:676.8px;height:35px;line-height:35px;font-size:25px;color:#686b73;font-weight:400;">300</div>
<div class="t" style="right:1996px;top:582.1px;height:35px;line-height:35px;font-size:25px;color:#686b73;font-weight:400;">400</div>
<div class="t" style="right:1996px;top:487.5px;height:35px;line-height:35px;font-size:25px;color:#686b73;font-weight:400;">500</div>
<div class="t" style="right:1996px;top:392.8px;height:35px;line-height:35px;font-size:25px;color:#686b73;font-weight:400;">600</div>
<div class="t" style="left:-113.77777777777777px;width:600px;text-align:center;top:990.5px;height:33px;line-height:33px;font-size:24px;color:#686b73;font-weight:400;letter-spacing:-0.5px;">10:10</div>
<div class="t" style="left:61.77777777777777px;width:600px;text-align:center;top:990.5px;height:33px;line-height:33px;font-size:24px;color:#686b73;font-weight:400;letter-spacing:-0.5px;">10:15</div>
<div class="t" style="left:237.33333333333326px;width:600px;text-align:center;top:990.5px;height:33px;line-height:33px;font-size:24px;color:#686b73;font-weight:400;letter-spacing:-0.5px;">10:20</div>
<div class="t" style="left:412.8888888888889px;width:600px;text-align:center;top:990.5px;height:33px;line-height:33px;font-size:24px;color:#686b73;font-weight:400;letter-spacing:-0.5px;">10:25</div>
<div class="t" style="left:588.4444444444445px;width:600px;text-align:center;top:990.5px;height:33px;line-height:33px;font-size:24px;color:#686b73;font-weight:400;letter-spacing:-0.5px;">10:30</div>
<div class="t" style="left:764.0px;width:600px;text-align:center;top:990.5px;height:33px;line-height:33px;font-size:24px;color:#686b73;font-weight:400;letter-spacing:-0.5px;">10:35</div>
<div class="t" style="left:939.5555555555557px;width:600px;text-align:center;top:990.5px;height:33px;line-height:33px;font-size:24px;color:#686b73;font-weight:400;letter-spacing:-0.5px;">10:40</div>
<div class="t" style="left:1115.111111111111px;width:600px;text-align:center;top:990.5px;height:33px;line-height:33px;font-size:24px;color:#686b73;font-weight:400;letter-spacing:-0.5px;">10:45</div>
<div class="t" style="left:1290.6666666666667px;width:600px;text-align:center;top:990.5px;height:33px;line-height:33px;font-size:24px;color:#686b73;font-weight:400;letter-spacing:-0.5px;">10:50</div>
<div class="t" style="left:1466.2222222222222px;width:600px;text-align:center;top:990.5px;height:33px;line-height:33px;font-size:24px;color:#686b73;font-weight:400;letter-spacing:-0.5px;">10:55</div>
<div class="t" style="left:1641.7777777777778px;width:600px;text-align:center;top:990.5px;height:33px;line-height:33px;font-size:24px;color:#2f3238;font-weight:700;letter-spacing:-0.5px;">11:00</div>
<div class="abs" style="left:104.2px;top:856.7px;width:93.8px;height:28px;border-radius:8px;background:rgba(238,102,102,0.86)"><svg role="img" aria-label="↑" class="abs" style="left:0;top:0" width="34" height="28" viewBox="0 0 34 28" fill="none" stroke="#fff" stroke-width="1.8" stroke-linecap="round" stroke-linejoin="round"><path d="M18 23V5.4M14.4 9.2L18 5.4L21.6 9.2"/></svg><div class="t" style="left:34.5px;top:0;height:28px;line-height:28.5px;font-size:20.5px;color:#fff">75.63</div></div>
<div class="abs" style="left:560.7px;top:947.1px;width:93.8px;height:28px;border-radius:8px;background:rgba(84,150,214,0.9)"><svg role="img" aria-label="↓" class="abs" style="left:0;top:0" width="34" height="28" viewBox="0 0 34 28" fill="none" stroke="#fff" stroke-width="1.8" stroke-linecap="round" stroke-linejoin="round"><path d="M18 5V22.6M14.4 18.8L18 22.6L21.6 18.8"/></svg><div class="t" style="left:34.5px;top:0;height:28px;line-height:28.5px;font-size:20.5px;color:#fff">53.72</div></div>
<div class="abs" style="left:952.6px;top:944.7px;width:82.4px;height:28px;border-radius:8px;background:rgba(84,150,214,0.9)"><svg role="img" aria-label="↓" class="abs" style="left:0;top:0" width="34" height="28" viewBox="0 0 34 28" fill="none" stroke="#fff" stroke-width="1.8" stroke-linecap="round" stroke-linejoin="round"><path d="M18 5V22.6M14.4 18.8L18 22.6L21.6 18.8"/></svg><div class="t" style="left:34.5px;top:0;height:28px;line-height:28.5px;font-size:20.5px;color:#fff">56.3</div></div>
<div class="abs" style="left:279.8px;top:913.8px;width:93.8px;height:28px;border-radius:8px;background:rgba(84,150,214,0.9)"><svg role="img" aria-label="↓" class="abs" style="left:0;top:0" width="34" height="28" viewBox="0 0 34 28" fill="none" stroke="#fff" stroke-width="1.8" stroke-linecap="round" stroke-linejoin="round"><path d="M18 5V22.6M14.4 18.8L18 22.6L21.6 18.8"/></svg><div class="t" style="left:34.5px;top:0;height:28px;line-height:28.5px;font-size:20.5px;color:#fff">88.99</div></div>
<div class="abs" style="left:1889.2px;top:382.1px;width:105.2px;height:28px;border-radius:8px;background:rgba(238,102,102,0.86)"><svg role="img" aria-label="↑" class="abs" style="left:0;top:0" width="34" height="28" viewBox="0 0 34 28" fill="none" stroke="#fff" stroke-width="1.8" stroke-linecap="round" stroke-linejoin="round"><path d="M18 23V5.4M14.4 9.2L18 5.4L21.6 9.2"/></svg><div class="t" style="left:34.5px;top:0;height:28px;line-height:28.5px;font-size:20.5px;color:#fff">576.95</div></div>
<div class="abs" style="left:1684.2px;top:939.7px;width:93.8px;height:28px;border-radius:8px;background:rgba(84,150,214,0.9)"><svg role="img" aria-label="↓" class="abs" style="left:0;top:0" width="34" height="28" viewBox="0 0 34 28" fill="none" stroke="#fff" stroke-width="1.8" stroke-linecap="round" stroke-linejoin="round"><path d="M18 5V22.6M14.4 18.8L18 22.6L21.6 18.8"/></svg><div class="t" style="left:34.5px;top:0;height:28px;line-height:28.5px;font-size:20.5px;color:#fff">61.55</div></div>
<div class="abs" style="left:1151.8px;top:370.0px;width:105.2px;height:28px;border-radius:8px;background:rgba(238,102,102,0.86)"><svg role="img" aria-label="↑" class="abs" style="left:0;top:0" width="34" height="28" viewBox="0 0 34 28" fill="none" stroke="#fff" stroke-width="1.8" stroke-linecap="round" stroke-linejoin="round"><path d="M18 23V5.4M14.4 9.2L18 5.4L21.6 9.2"/></svg><div class="t" style="left:34.5px;top:0;height:28px;line-height:28.5px;font-size:20.5px;color:#fff">589.75</div></div>
<div class="abs" style="left:771.3px;top:929.1px;width:93.8px;height:28px;border-radius:8px;background:rgba(84,150,214,0.9)"><svg role="img" aria-label="↓" class="abs" style="left:0;top:0" width="34" height="28" viewBox="0 0 34 28" fill="none" stroke="#fff" stroke-width="1.8" stroke-linecap="round" stroke-linejoin="round"><path d="M18 5V22.6M14.4 18.8L18 22.6L21.6 18.8"/></svg><div class="t" style="left:34.5px;top:0;height:28px;line-height:28.5px;font-size:20.5px;color:#fff">72.76</div></div>
<div class="abs" style="left:976.3px;top:832.4px;width:105.2px;height:28px;border-radius:8px;background:rgba(238,102,102,0.86)"><svg role="img" aria-label="↑" class="abs" style="left:0;top:0" width="34" height="28" viewBox="0 0 34 28" fill="none" stroke="#fff" stroke-width="1.8" stroke-linecap="round" stroke-linejoin="round"><path d="M18 23V5.4M14.4 9.2L18 5.4L21.6 9.2"/></svg><div class="t" style="left:34.5px;top:0;height:28px;line-height:28.5px;font-size:20.5px;color:#fff">101.33</div></div>
<div class="abs" style="left:1438.4px;top:917.3px;width:93.8px;height:28px;border-radius:8px;background:rgba(84,150,214,0.9)"><svg role="img" aria-label="↓" class="abs" style="left:0;top:0" width="34" height="28" viewBox="0 0 34 28" fill="none" stroke="#fff" stroke-width="1.8" stroke-linecap="round" stroke-linejoin="round"><path d="M18 5V22.6M14.4 18.8L18 22.6L21.6 18.8"/></svg><div class="t" style="left:34.5px;top:0;height:28px;line-height:28.5px;font-size:20.5px;color:#fff">85.21</div></div>
<div class="abs" style="left:1713.6px;top:413.2px;width:105.2px;height:28px;border-radius:8px;background:rgba(238,102,102,0.86)"><svg role="img" aria-label="↑" class="abs" style="left:0;top:0" width="34" height="28" viewBox="0 0 34 28" fill="none" stroke="#fff" stroke-width="1.8" stroke-linecap="round" stroke-linejoin="round"><path d="M18 23V5.4M14.4 9.2L18 5.4L21.6 9.2"/></svg><div class="t" style="left:34.5px;top:0;height:28px;line-height:28.5px;font-size:20.5px;color:#fff">544.12</div></div>
<div class="abs" style="left:244.7px;top:971.5px;width:93.8px;height:28px;border-radius:8px;background:rgba(84,150,214,0.9)"><svg role="img" aria-label="↓" class="abs" style="left:0;top:0" width="34" height="28" viewBox="0 0 34 28" fill="none" stroke="#fff" stroke-width="1.8" stroke-linecap="round" stroke-linejoin="round"><path d="M18 5V22.6M14.4 18.8L18 22.6L21.6 18.8"/></svg><div class="t" style="left:34.5px;top:0;height:28px;line-height:28.5px;font-size:20.5px;color:#fff">28.03</div></div>
<div class="abs" style="left:560.7px;top:402.6px;width:93.8px;height:28px;border-radius:8px;background:rgba(238,102,102,0.86)"><svg role="img" aria-label="↑" class="abs" style="left:0;top:0" width="34" height="28" viewBox="0 0 34 28" fill="none" stroke="#fff" stroke-width="1.8" stroke-linecap="round" stroke-linejoin="round"><path d="M18 23V5.4M14.4 9.2L18 5.4L21.6 9.2"/></svg><div class="t" style="left:34.5px;top:0;height:28px;line-height:28.5px;font-size:20.5px;color:#fff">555.3</div></div>
<div class="abs" style="left:1122.4px;top:979.9px;width:93.8px;height:28px;border-radius:8px;background:rgba(84,150,214,0.9)"><svg role="img" aria-label="↓" class="abs" style="left:0;top:0" width="34" height="28" viewBox="0 0 34 28" fill="none" stroke="#fff" stroke-width="1.8" stroke-linecap="round" stroke-linejoin="round"><path d="M18 5V22.6M14.4 18.8L18 22.6L21.6 18.8"/></svg><div class="t" style="left:34.5px;top:0;height:28px;line-height:28.5px;font-size:20.5px;color:#fff">19.14</div></div>
<div class="abs" style="left:104.2px;top:841.5px;width:93.8px;height:28px;border-radius:8px;background:rgba(238,102,102,0.86)"><svg role="img" aria-label="↑" class="abs" style="left:0;top:0" width="34" height="28" viewBox="0 0 34 28" fill="none" stroke="#fff" stroke-width="1.8" stroke-linecap="round" stroke-linejoin="round"><path d="M18 23V5.4M14.4 9.2L18 5.4L21.6 9.2"/></svg><div class="t" style="left:34.5px;top:0;height:28px;line-height:28.5px;font-size:20.5px;color:#fff">91.74</div></div>
<svg class="abs" style="left:0;top:0" width="2096" height="1188" viewBox="0 0 2096 1188"><path d="M1450.7 411V979" stroke="#a9abb0" stroke-width="2" stroke-dasharray="8 5" stroke-opacity="0.9"/></svg>
<div class="abs" style="left:1502px;top:382px;width:309px;height:504.5px;border-radius:9px;background:#fff;box-shadow:2px 4px 18px rgba(0,0,0,.13)"></div>
<div class="t" style="left:1524px;top:398.0px;height:40px;line-height:40px;font-size:29px;color:#2f3136;font-weight:400;">2025-11-11 10:46:00</div>
<div class="abs" style="left:1524px;top:456px;width:20px;height:20px;border-radius:50%;background:#5672c4"></div>
<div class="t tf" style="left:1556px;top:446.5px;height:39px;line-height:39px;font-size:28px;color:#2f3136;font-weight:400;"><span>上海电信</span></div>
<div class="t" style="right:306.5px;top:446.0px;height:40px;line-height:40px;font-size:29px;color:#1f2328;font-weight:400;-webkit-text-stroke:0.75px #1f2328;">57.07</div>
<div class="abs" style="left:1524px;top:504px;width:20px;height:20px;border-radius:50%;background:#9bcd7c"></div>
<div class="t tf" style="left:1556px;top:494.5px;height:39px;line-height:39px;font-size:28px;color:#2f3136;font-weight:400;"><span>上海移动</span></div>
<div class="t" style="right:306.5px;top:494.0px;height:40px;line-height:40px;font-size:29px;color:#1f2328;font-weight:400;-webkit-text-stroke:0.75px #1f2328;">59.1</div>
<div class="abs" style="left:1524px;top:552px;width:20px;height:20px;border-radius:50%;background:#f5c863"></div>
<div class="t tf" style="left:1556px;top:542.5px;height:39px;line-height:39px;font-size:28px;color:#2f3136;font-weight:400;"><span>上海联通</span></div>
<div class="t" style="right:306.5px;top:542.0px;height:40px;line-height:40px;font-size:29px;color:#1f2328;font-weight:400;-webkit-text-stroke:0.75px #1f2328;">89.92</div>
<div class="abs" style="left:1524px;top:600px;width:20px;height:20px;border-radius:50%;background:#e66b69"></div>
<div class="t tf" style="left:1556px;top:590.5px;height:39px;line-height:39px;font-size:28px;color:#2f3136;font-weight:400;"><span>北京电信</span></div>
<div class="t" style="right:306.5px;top:590.0px;height:40px;line-height:40px;font-size:29px;color:#1f2328;font-weight:400;-webkit-text-stroke:0.75px #1f2328;">66.75</div>
<div class="abs" style="left:1524px;top:648px;width:20px;height:20px;border-radius:50%;background:#82c5e4"></div>
<div class="t tf" style="left:1556px;top:638.5px;height:39px;line-height:39px;font-size:28px;color:#2f3136;font-weight:400;"><span>北京移动</span></div>
<div class="t" style="right:306.5px;top:638.0px;height:40px;line-height:40px;font-size:29px;color:#1f2328;font-weight:400;-webkit-text-stroke:0.75px #1f2328;">74.14</div>
<div class="abs" style="left:1524px;top:696px;width:20px;height:20px;border-radius:50%;background:#479f73"></div>
<div class="t tf" style="left:1556px;top:686.5px;height:39px;line-height:39px;font-size:28px;color:#2f3136;font-weight:400;"><span>北京联通</span></div>
<div class="t" style="right:306.5px;top:686.0px;height:40px;line-height:40px;font-size:29px;color:#1f2328;font-weight:400;-webkit-text-stroke:0.75px #1f2328;">99.25</div>
<div class="abs" style="left:1524px;top:744px;width:20px;height:20px;border-radius:50%;background:#9763ae"></div>
<div class="t tf" style="left:1556px;top:734.5px;height:39px;line-height:39px;font-size:28px;color:#2f3136;font-weight:400;"><span>广州电信</span></div>
<div class="t" style="right:306.5px;top:734.0px;height:40px;line-height:40px;font-size:29px;color:#1f2328;font-weight:400;-webkit-text-stroke:0.75px #1f2328;">34.26</div>
<div class="abs" style="left:1524px;top:792px;width:20px;height:20px;border-radius:50%;background:#f08a5c"></div>
<div class="t tf" style="left:1556px;top:782.5px;height:39px;line-height:39px;font-size:28px;color:#2f3136;font-weight:400;"><span>广州移动</span></div>
<div class="t" style="right:306.5px;top:782.0px;height:40px;line-height:40px;font-size:29px;color:#1f2328;font-weight:400;-webkit-text-stroke:0.75px #1f2328;">43.66</div>
<div class="abs" style="left:1524px;top:840px;width:20px;height:20px;border-radius:50%;background:#e180c8"></div>
<div class="t tf" style="left:1556px;top:830.5px;height:39px;line-height:39px;font-size:28px;color:#2f3136;font-weight:400;"><span>广州联通</span></div>
<div class="t" style="right:306.5px;top:830.0px;height:40px;line-height:40px;font-size:29px;color:#1f2328;font-weight:400;-webkit-text-stroke:0.75px #1f2328;">79.89</div>
<svg class="abs" style="left:0;top:0" width="2096" height="1188" viewBox="0 0 2096 1188">
<path d="M122 1092V1081A3 3 0 0 1 125 1078H2014.5A3 3 0 0 1 2017.5 1081V1092Z" fill="#bcc2e2"/>
<rect x="122" y="1092" width="1895.5" height="37.5" fill="#e4e6ec"/>
<path d="M122.0 1114.3 L157.1 1098.4 L192.2 1119.1 L227.3 1119.6 L262.4 1119.1 L297.5 1120.4 L332.6 1119.6 L367.7 1118.5 L402.8 1117.9 L437.9 1118.5 L473.0 1118.5 L508.1 1119.1 L543.2 1117.4 L578.3 1115.8 L613.4 1123.4 L648.5 1115.8 L683.6 1115.8 L718.7 1118.4 L753.8 1118.5 L788.9 1119.1 L824.0 1119.4 L859.1 1117.4 L894.2 1119.1 L929.3 1116.9 L964.4 1119.4 L999.5 1120.4 L1034.6 1121.5 L1069.8 1113.3 L1104.9 1115.3 L1140.0 1115.3 L1175.1 1114.3 L1210.2 1115.3 L1245.3 1117.4 L1280.4 1121.5 L1315.5 1118.4 L1350.6 1119.9 L1385.7 1119.4 L1420.8 1116.3 L1455.9 1119.6 L1491.0 1119.6 L1526.1 1117.4 L1561.2 1115.8 L1596.3 1116.9 L1631.4 1121.5 L1666.5 1118.4 L1701.6 1117.4 L1736.7 1115.8 L1771.8 1116.3 L1806.9 1119.4 L1842.0 1116.3 L1877.1 1120.4 L1912.2 1115.8 L1947.3 1116.9 L1982.4 1115.3 L2017.5 1119.1 L2017.5 1129 L122 1129Z" fill="#dee0e6" stroke="none"/>
<path d="M122.0 1114.3 L157.1 1098.4 L192.2 1119.1 L227.3 1119.6 L262.4 1119.1 L297.5 1120.4 L332.6 1119.6 L367.7 1118.5 L402.8 1117.9 L437.9 1118.5 L473.0 1118.5 L508.1 1119.1 L543.2 1117.4 L578.3 1115.8 L613.4 1123.4 L648.5 1115.8 L683.6 1115.8 L718.7 1118.4 L753.8 1118.5 L788.9 1119.1 L824.0 1119.4 L859.1 1117.4 L894.2 1119.1 L929.3 1116.9 L964.4 1119.4 L999.5 1120.4 L1034.6 1121.5 L1069.8 1113.3 L1104.9 1115.3 L1140.0 1115.3 L1175.1 1114.3 L1210.2 1115.3 L1245.3 1117.4 L1280.4 1121.5 L1315.5 1118.4 L1350.6 1119.9 L1385.7 1119.4 L1420.8 1116.3 L1455.9 1119.6 L1491.0 1119.6 L1526.1 1117.4 L1561.2 1115.8 L1596.3 1116.9 L1631.4 1121.5 L1666.5 1118.4 L1701.6 1117.4 L1736.7 1115.8 L1771.8 1116.3 L1806.9 1119.4 L1842.0 1116.3 L1877.1 1120.4 L1912.2 1115.8 L1947.3 1116.9 L1982.4 1115.3 L2017.5 1119.1" fill="none" stroke="#747985" stroke-width="1"/>
<rect x="122" y="1090.8" width="1895.5" height="2" fill="#acb4d2"/>
<rect x="122" y="1128.8" width="1895.5" height="2" fill="#b8bed0"/>
<rect x="121.8" y="1092" width="2.6" height="38.8" fill="#c3c8e0"/>
<rect x="2015" y="1092" width="2.6" height="38.8" fill="#c3c8e0"/>
<rect x="119" y="1098.4" width="9" height="25.4" rx="2" fill="#c8cde6"/>
<rect x="120.8" y="1099.8" width="6" height="22.4" rx="1" fill="#62687a"/>
<rect x="2011" y="1098.4" width="9" height="25.4" rx="2" fill="#c8cde6"/>
<rect x="2012.4" y="1099.8" width="6" height="22.4" rx="1" fill="#62687a"/>
<rect x="1064.4" y="1082" width="2.2" height="6" fill="#fff"/>
<rect x="1068.4" y="1082" width="2.2" height="6" fill="#fff"/>
<rect x="1072.4" y="1082" width="2.2" height="6" fill="#fff"/>
</svg>
</div></body></html>
